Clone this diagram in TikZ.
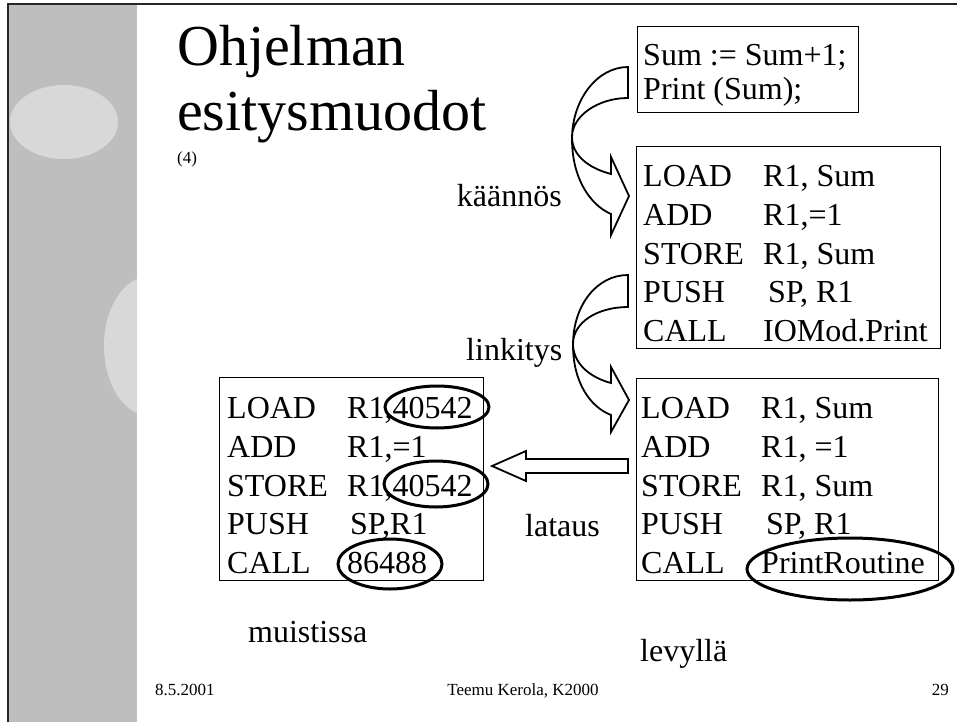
\documentclass[tikz,border=0pt]{standalone}
\usepackage{fontspec}
\setmainfont{Liberation Serif}
\usetikzlibrary{shapes.geometric}
\definecolor{stripgray}{RGB}{190,190,190}
\definecolor{blobgray}{RGB}{216,216,216}
\newcommand\mn[1]{\makebox[120pt][l]{#1}}
\begin{document}
\begin{tikzpicture}[x=1pt,y=-1pt,
  box/.style={draw, line width=1.3pt, inner sep=0pt, anchor=north west},
  code/.style={anchor=base west, inner sep=0pt, font=\fontsize{32}{38}\selectfont},
  lbl/.style={inner sep=0pt, font=\fontsize{32}{38}\selectfont},
  foot/.style={inner sep=0pt, anchor=base, font=\fontsize{17}{20}\selectfont},
  blockarrow/.style={draw, fill=white, line width=1.8pt, line join=miter},
  ring/.style={draw, line width=3pt, ellipse, inner sep=0pt}]
\useasboundingbox (0,0) rectangle (957,722);
\fill[white] (0,0) rectangle (957,722);
% left decorative strip
\begin{scope}
  \clip (8,4) rectangle (137,722);
  \fill[stripgray] (8,4) rectangle (137,722);
  \fill[blobgray] (64,122) ellipse [x radius=54, y radius=37];
  \fill[blobgray] (150,346) ellipse [x radius=46, y radius=70];
\end{scope}
\draw[line width=1.5pt, black!85] (8,722) -- (8,4) -- (957,4);
% title
\node[anchor=base west, inner sep=0pt, font=\fontsize{58}{62}\selectfont] (t1) at (177,66) {Ohjelman};
\node[anchor=base west, inner sep=0pt, font=\fontsize{58}{62}\selectfont] (t2) at (177,131) {esitysmuodot};
\node[anchor=base west, inner sep=0pt, font=\fontsize{17}{20}\selectfont] (t3) at (177,164) {(4)};
% boxes
\node[box, minimum width=221pt, minimum height=86pt] (b1) at (637,26) {};
\node[box, minimum width=304pt, minimum height=202pt] (b2) at (636,146) {};
\node[box, minimum width=302pt, minimum height=202pt] (b3) at (636,378) {};
\node[box, minimum width=264pt, minimum height=203pt] (b4) at (219,377) {};
% box 1 text
\node[code] (b1-1) at (643,66) {Sum := Sum+1;};
\node[code] (b1-2) at (643,100) {Print (Sum);};
% box 2 text
\node[code] (b2-1) at (643,186) {\mn{LOAD}R1, Sum};
\node[code] (b2-2) at (643,225) {\mn{ADD}R1,=1};
\node[code] (b2-3) at (643,264) {\mn{STORE}R1, Sum};
\node[code] (b2-4) at (643,302) {\mn{PUSH}\hspace{5pt}SP, R1};
\node[code] (b2-5) at (643,341) {\mn{CALL}IOMod.Print};
% box 3 text
\node[code] (b3-1) at (641,418) {\mn{LOAD}R1, Sum};
\node[code] (b3-2) at (641,457) {\mn{ADD}R1, =1};
\node[code] (b3-3) at (641,496) {\mn{STORE}R1, Sum};
\node[code] (b3-4) at (641,534) {\mn{PUSH}\hspace{5pt}SP, R1};
\node[code] (b3-5) at (641,573) {\mn{CALL}PrintRoutine};
% box 4 text
\node[code] (b4-1) at (227,418) {\mn{LOAD}R1,40542};
\node[code] (b4-2) at (227,457) {\mn{ADD}R1,=1};
\node[code] (b4-3) at (227,496) {\mn{STORE}R1,40542};
\node[code] (b4-4) at (227,534) {\mn{PUSH}\hspace{3pt}SP,R1};
\node[code] (b4-5) at (227,573) {\mn{CALL}86488};
% rings
\node[ring, minimum width=104pt, minimum height=42pt] (r1) at (437,407) {};
\node[ring, minimum width=104pt, minimum height=46pt] (r2) at (436,484) {};
\node[ring, minimum width=104pt, minimum height=50pt] (r3) at (390,564) {};
\node[ring, minimum width=206pt, minimum height=62pt] (r4) at (850,569) {};
% curved arrow 1 (kaannos)
\draw[blockarrow] (628,67) .. controls (597,67) and (572,100) .. (572,139)
  .. controls (572,178) and (590,205) .. (611,214)
  -- (611,235) -- (629,196) -- (611,157) -- (611,174)
  .. controls (588,168) and (572,155) .. (572,137)
  .. controls (572,116) and (598,98) .. (628,98) -- cycle;
% curved arrow 2 (linkitys)
\draw[blockarrow] (628,275) .. controls (597,275) and (573,305) .. (573,345)
  .. controls (573,382) and (590,407) .. (611,415)
  -- (611,432) -- (629,400) -- (611,367) -- (611,383)
  .. controls (588,377) and (573,362) .. (573,344)
  .. controls (573,322) and (598,307) .. (628,307) -- cycle;
% straight arrow (lataus)
\draw[blockarrow] (628,459) -- (526,459) -- (526,451) -- (492,466) -- (526,481)
  -- (526,473) -- (628,473) -- cycle;
% labels
\node[lbl, anchor=base east] (l1) at (562,206) {käännös};
\node[lbl, anchor=base west] (l2) at (466,360) {linkitys};
\node[lbl, anchor=base west] (l3) at (525,536) {lataus};
\node[lbl, anchor=base west] (l4) at (248,642) {muistissa};
\node[lbl, anchor=base west] (l5) at (640,661) {levyllä};
% footer
\node[foot, anchor=base west] (f1) at (155,695) {8.5.2001};
\node[foot] (f2) at (523,695) {Teemu Kerola, K2000};
\node[foot, anchor=base east] (f3) at (949,695) {29};
\end{tikzpicture}
\end{document}
